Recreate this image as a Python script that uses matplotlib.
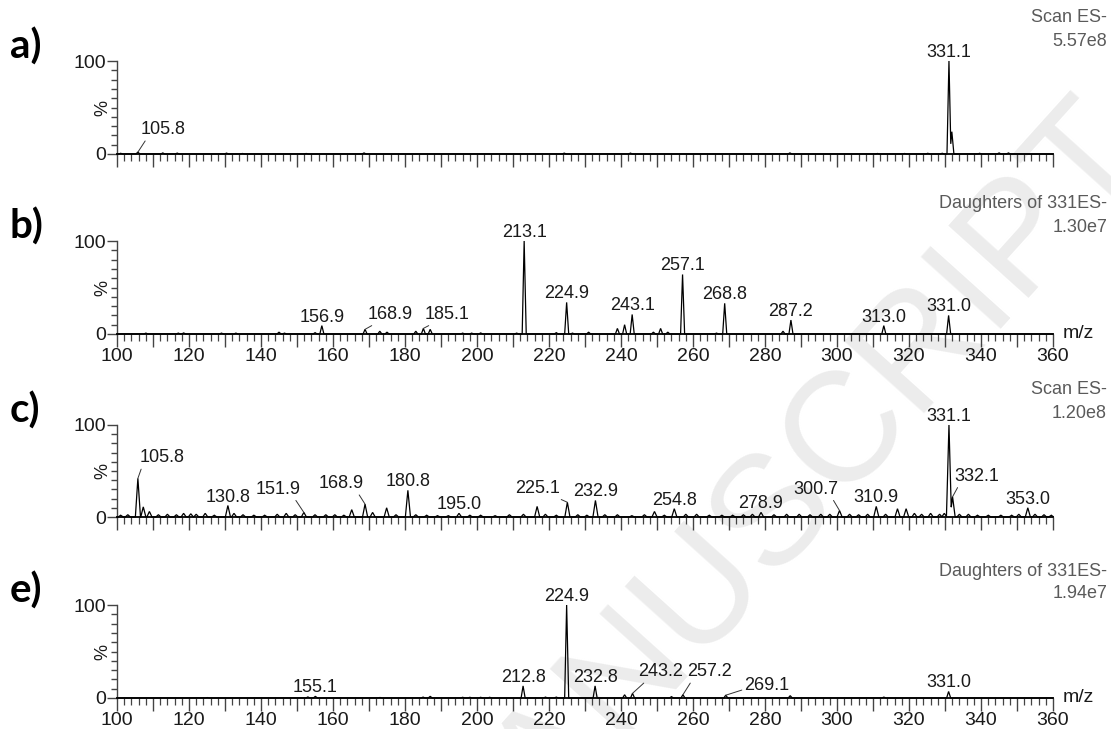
import numpy as np
import matplotlib
matplotlib.use("Agg")
import matplotlib.pyplot as plt
from matplotlib.ticker import MultipleLocator, FixedLocator, FuncFormatter

plt.rcParams['font.family'] = ['Liberation Sans', 'DejaVu Sans']

# ---------------------------------------------------------------- data
# a) full scan ES-
mz_a = [101.0, 105.8, 112.7, 116.7, 130.4, 134.8, 152.5, 168.6, 224.2, 242.6,
        286.9, 311.2, 318.7, 325.2, 329.2, 331.1, 331.9, 339.6, 345.0, 347.6]
int_a = [0.8, 2.0, 1.2, 1.0, 1.0, 0.6, 0.6, 1.2, 1.0, 1.0,
         1.2, 0.6, 0.6, 0.8, 0.8, 100, 24, 0.8, 1.2, 1.2]

# b) daughters of 331 ES-
mz_b = [108.0, 117.0, 118.5, 129.0, 133.0, 145.0, 146.5, 155.0, 156.9, 168.9,
        173.0, 175.0, 183.0, 185.1, 187.0, 196.0, 198.5, 201.0, 211.0, 213.1,
        222.0, 224.9, 226.5, 231.0, 239.0, 241.0, 243.1, 249.0, 251.0, 253.0,
        257.1, 266.5, 268.8, 285.0, 287.2, 313.0, 331.0]
int_b = [1.0, 1.0, 1.2, 1.0, 1.0, 2.0, 1.0, 1.5, 9.0, 5.0,
         3.0, 2.0, 3.0, 6.0, 5.0, 1.0, 1.0, 1.2, 1.0, 100,
         1.5, 34, 1.0, 2.0, 6.0, 10.0, 21.0, 2.0, 6.0, 2.0,
         64, 1.0, 33, 3.0, 15.0, 9.0, 20.0]

# c) full scan ES-
mz_c = [101.0, 103.0, 105.8, 107.3, 109.0, 111.5, 114.0, 116.5, 118.5, 120.5,
        122.0, 124.5, 127.0, 130.8, 132.5, 135.0, 138.0, 141.0, 144.5, 147.0,
        149.5, 151.9, 155.0, 158.0, 160.5, 163.0, 165.2, 168.9, 171.0, 174.9,
        177.5, 180.8, 183.0, 186.0, 189.0, 192.0, 195.0, 198.0, 201.0, 205.0,
        209.0, 212.9, 216.7, 219.0, 222.0, 225.1, 228.0, 230.5, 232.9, 235.5,
        239.0, 243.0, 246.5, 249.3, 252.0, 254.8, 258.0, 261.0, 264.5, 268.0,
        271.0, 274.0, 276.5, 278.9, 282.5, 286.0, 289.5, 292.5, 295.5, 298.0,
        300.7, 303.5, 306.0, 308.5, 310.9, 313.5, 316.8, 319.2, 321.5, 323.5,
        326.0, 328.5, 329.8, 331.1, 332.1, 334.0, 336.5, 339.0, 342.0, 345.5,
        348.5, 350.5, 353.0, 355.0, 357.5, 359.5]
int_c = [2, 2.5, 42, 11, 6, 2.5, 3, 2.5, 4, 3.5,
         3, 4, 2, 12.5, 4, 2.5, 2, 2, 3, 4,
         2.5, 5, 2.5, 2.5, 2.5, 2, 8, 14, 5, 10,
         2.5, 29, 2.5, 2, 1.5, 1.5, 4, 2, 2, 1.5,
         2.5, 3, 11.5, 3, 2, 16, 2.5, 2, 18, 2.5,
         2.5, 1.5, 2.5, 6, 2, 9, 3, 3, 2, 2,
         2, 2.5, 3, 5, 2.5, 3, 3, 2.5, 3, 3,
         7, 3, 2.5, 3, 11.5, 3, 9, 9, 4, 3,
         4, 3, 4, 100, 22, 3, 3, 2, 2, 2,
         2, 3, 10, 3, 2.5, 2]

# e) daughters of 331 ES-
mz_e = [125.0, 153.0, 155.1, 173.0, 185.0, 187.0, 196.0, 198.0, 201.0, 203.5,
        212.8, 219.0, 222.0, 224.9, 232.8, 241.0, 243.2, 254.0, 257.2, 269.1,
        287.0, 313.0, 331.0]
int_e = [0.5, 1.2, 1.8, 0.6, 1.0, 1.8, 0.8, 0.8, 0.8, 0.8,
         13, 1.0, 1.0, 100, 13, 3.5, 5, 1.5, 3.5, 3,
         2.5, 1, 7]

# labelled peaks per panel
labels_a = [105.8, 331.1]
labels_b = [156.9, 168.9, 185.1, 213.1, 224.9, 243.1, 257.1, 268.8, 287.2, 313.0, 331.0]
labels_c = [105.8, 130.8, 151.9, 168.9, 180.8, 195.0, 225.1, 232.9, 254.8, 278.9,
            300.7, 310.9, 331.1, 332.1, 353.0]
labels_e = [155.1, 212.8, 224.9, 232.8, 243.2, 257.2, 269.1, 331.0]

headers = [("Scan ES-", "5.57e8"), ("Daughters of 331ES-", "1.30e7"),
           ("Scan ES-", "1.20e8"), ("Daughters of 331ES-", "1.94e7")]
panel_tags = ["a)", "b)", "c)", "e)"]
x_ticks = list(range(100, 361, 20))

# ---------------------------------------------------------------- layout
W, H = 1111, 729
fig = plt.figure(figsize=(W / 100, H / 100), dpi=100)


def fx(px):
    return px / W


def fy(py):
    return 1 - py / H


AX_L, AX_R = 117, 1053
panel_rows = [(61, 154), (241, 334), (425, 517), (605, 698)]
header_y = [(18, 42), (203, 228), (390, 413), (571, 594)]

# leader-line label placements: m/z -> (text centre m/z, text bottom %, relpos)
leaders = [
    {105.8: (112.7, 17, (0.15, 0))},
    {168.9: (175.9, 12, (0.2, 0)), 185.1: (191.8, 12, (0.2, 0))},
    {105.8: (112.6, 55, (0.05, 0)), 151.9: (144.8, 21, (0.85, 0)),
     168.9: (162.4, 27, (0.85, 0)), 225.1: (216.7, 22, (0.9, 0)),
     300.7: (294.2, 21, (0.85, 0)), 332.1: (338.9, 35, (0.1, 0))},
    {243.2: (250.9, 19, (0.2, 0)), 257.2: (264.7, 19, (0.1, 0)),
     269.1: (280.6, 4, (0.0, 0.3))},
]

grid = np.linspace(100, 360, 10401)


def profile(mz, inten, hw):
    m = np.asarray(mz, float)[:, None]
    h = np.asarray(inten, float)[:, None]
    return (h * np.clip(1 - np.abs(grid - m) / hw, 0, None)).max(axis=0)


spectra = [(mz_a, int_a, 0.55), (mz_b, int_b, 0.55), (mz_c, int_c, 0.7), (mz_e, int_e, 0.55)]
label_sets = [labels_a, labels_b, labels_c, labels_e]
show_xlabels = [False, True, False, True]

LABEL_FS = 13
TXT = '#1a1a1a'
GREY = '#5a5a5a'

# watermark behind the panels
fig.text(fx(1150), fy(150), "MANUSCRIPT", rotation=48, rotation_mode='anchor',
         ha='right', va='baseline', fontsize=112, color='#ececec', zorder=-5)

for i, ((top, bot), (mz, inten, hw)) in enumerate(zip(panel_rows, spectra)):
    ax = fig.add_axes([fx(AX_L), fy(bot), fx(AX_R) - fx(AX_L), (bot - top) / H])
    ax.set_facecolor('none')
    y = profile(mz, inten, hw)
    ax.plot(grid, y, color='black', lw=0.9, solid_joinstyle='miter', clip_on=False)
    ax.set_xlim(100, 360)
    ax.set_ylim(0, 100)

    for s in ('top', 'right'):
        ax.spines[s].set_visible(False)
    ax.spines['left'].set_color('#444444')
    ax.spines['left'].set_linewidth(1.0)
    ax.spines['bottom'].set_color('black')
    ax.spines['bottom'].set_linewidth(1.3)

    ax.yaxis.set_major_locator(FixedLocator([0, 100]))
    ax.yaxis.set_minor_locator(MultipleLocator(10))
    ax.tick_params(axis='y', which='major', length=7, width=1.0, color='#444444',
                   labelsize=14, pad=1, labelcolor=TXT)
    ax.tick_params(axis='y', which='minor', length=4, width=1.0, color='#444444')

    ax.xaxis.set_major_locator(MultipleLocator(10))
    ax.xaxis.set_minor_locator(MultipleLocator(2))
    if show_xlabels[i]:
        ax.xaxis.set_major_formatter(FuncFormatter(
            lambda v, p: f"{int(round(v))}" if int(round(v)) in x_ticks else ""))
    else:
        ax.xaxis.set_major_formatter(FuncFormatter(lambda v, p: ""))
    ax.tick_params(axis='x', which='major', length=9, width=1.0, color='#444444',
                   labelsize=14, pad=1, labelcolor=TXT)
    ax.tick_params(axis='x', which='minor', length=5, width=0.9, color='#444444')

    axw = AX_R - AX_L
    ax.text(-14 / axw, 0.5, "%", transform=ax.transAxes, rotation=90,
            ha='center', va='center', fontsize=13, color=TXT)
    if show_xlabels[i]:
        ax.text(1 + 10 / axw, 0.0, "m/z", transform=ax.transAxes, ha='left',
                va='center', fontsize=14, color=TXT)

    # peak annotations
    lookup = dict(zip(mz, inten))
    for m in label_sets[i]:
        h = lookup[m]
        txt = f"{m:.1f}"
        if m in leaders[i]:
            tx, ty, rp = leaders[i][m]
            ax.annotate(txt, xy=(m, h), xytext=(tx, ty), textcoords='data',
                        ha='center', va='bottom', fontsize=LABEL_FS, color=TXT,
                        annotation_clip=False,
                        arrowprops=dict(arrowstyle='-', color='#333333', lw=0.7,
                                        shrinkA=0, shrinkB=0, relpos=rp))
        else:
            ax.annotate(txt, xy=(m, h), xytext=(0, 0), textcoords='offset points',
                        ha='center', va='bottom', fontsize=LABEL_FS, color=TXT,
                        annotation_clip=False)

    # header text on the right
    h1, h2 = header_y[i]
    fig.text(fx(1107), fy(h1), headers[i][0], ha='right', va='center',
             fontsize=LABEL_FS, color=GREY)
    fig.text(fx(1107), fy(h2), headers[i][1], ha='right', va='center',
             fontsize=LABEL_FS, color=GREY)

    # panel tag
    fig.text(fx(10), fy(top - 14), panel_tags[i], ha='left', va='center',
             fontsize=29, fontweight='bold', family=['Lato', 'DejaVu Sans'], color='black')

fig.savefig("out.png", dpi=100, facecolor='white')
